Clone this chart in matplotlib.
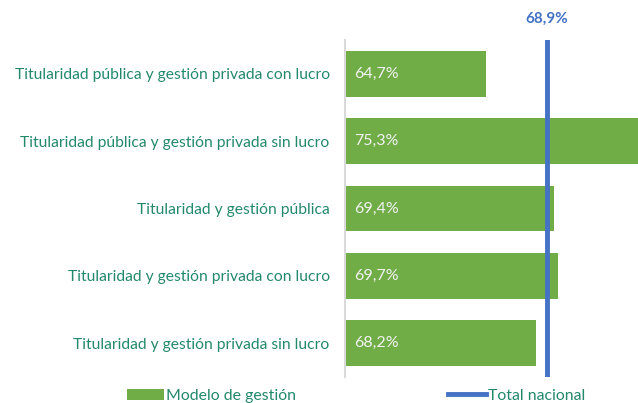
import matplotlib.pyplot as plt
from matplotlib.patches import Patch
from matplotlib.lines import Line2D

# Data
categorias = [
    'Titularidad pública y gestión privada con lucro',
    'Titularidad pública y gestión privada sin lucro',
    'Titularidad y gestión pública',
    'Titularidad y gestión privada con lucro',
    'Titularidad y gestión privada sin lucro',
]
valores = [64.7, 75.3, 69.4, 69.7, 68.2]
total_nacional = 68.9

verde = '#70AD47'
azul = '#4472C4'
texto = '#23896B'

plt.rcParams['font.family'] = ['Lato', 'DejaVu Sans']

fig = plt.figure(figsize=(6.38, 4.03), dpi=100)
ax = fig.add_axes([345 / 638, 1 - 377 / 403, 293 / 638, 337 / 403])

y = list(range(len(categorias)))
ax.barh(y, valores, height=0.68, color=verde, left=0)
ax.set_xlim(55, 75.2)
ax.set_ylim(len(categorias) - 0.5, -0.5)

for yi, v in zip(y, valores):
    ax.text(55.6, yi, f'{v:.1f}%'.replace('.', ','), color='#F2F2F2',
            fontsize=11.5, va='center', ha='left')

ax.axvline(total_nacional, color=azul, linewidth=3.5)
ax.text(total_nacional, -0.5 - 21 / 67.4, f'{total_nacional:.1f}%'.replace('.', ','),
        color=azul, fontsize=11, fontweight='bold', ha='center', va='center',
        clip_on=False)

ax.set_yticks(y)
ax.set_yticklabels(categorias, color=texto, fontsize=11.25)
ax.tick_params(axis='y', length=0, pad=11)
ax.set_xticks([])
for s in ['top', 'right', 'bottom']:
    ax.spines[s].set_visible(False)
ax.spines['left'].set_color('#D9D9D9')
ax.spines['left'].set_linewidth(1.5)

handles = [Patch(facecolor=verde, edgecolor='none'),
           Line2D([0], [0], color=azul, linewidth=3.5)]
leg = fig.legend(handles, ['Modelo de gestión', 'Total nacional'],
                 loc='center', bbox_to_anchor=(356 / 638, 1 - 396 / 403),
                 ncol=2, frameon=False, fontsize=11.4, columnspacing=9.6,
                 handlelength=2.35, handletextpad=0.15, labelcolor=texto)

fig.savefig('out.png', dpi=100)
